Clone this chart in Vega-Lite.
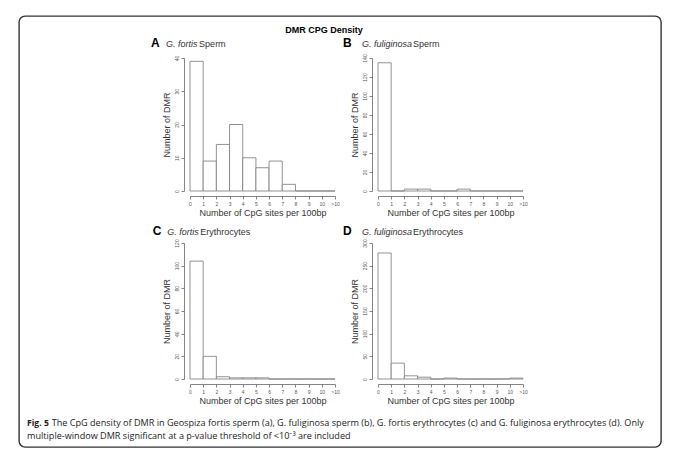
{
  "$schema": "https://vega.github.io/schema/vega-lite/v6.json",
  "padding": {"left": 18, "top": 15, "right": 14, "bottom": 8},
  "columns": 2,
  "align": "none",
  "bounds": "full",
  "spacing": {"column": -511, "row": -411},
  "datasets": {
    "hist": [
      {"panel": "A", "bin_start": 0, "bin_end": 1, "count": 39},
      {"panel": "A", "bin_start": 1, "bin_end": 2, "count": 9},
      {"panel": "A", "bin_start": 2, "bin_end": 3, "count": 14},
      {"panel": "A", "bin_start": 3, "bin_end": 4, "count": 20},
      {"panel": "A", "bin_start": 4, "bin_end": 5, "count": 10},
      {"panel": "A", "bin_start": 5, "bin_end": 6, "count": 7},
      {"panel": "A", "bin_start": 6, "bin_end": 7, "count": 9},
      {"panel": "A", "bin_start": 7, "bin_end": 8, "count": 2},
      {"panel": "A", "bin_start": 8, "bin_end": 9, "count": 0},
      {"panel": "A", "bin_start": 9, "bin_end": 10, "count": 0},
      {"panel": "A", "bin_start": 10, "bin_end": 11, "count": 0},
      {"panel": "B", "bin_start": 0, "bin_end": 1, "count": 135},
      {"panel": "B", "bin_start": 1, "bin_end": 2, "count": 0},
      {"panel": "B", "bin_start": 2, "bin_end": 3, "count": 2},
      {"panel": "B", "bin_start": 3, "bin_end": 4, "count": 2},
      {"panel": "B", "bin_start": 4, "bin_end": 5, "count": 0},
      {"panel": "B", "bin_start": 5, "bin_end": 6, "count": 0},
      {"panel": "B", "bin_start": 6, "bin_end": 7, "count": 2},
      {"panel": "B", "bin_start": 7, "bin_end": 8, "count": 0},
      {"panel": "B", "bin_start": 8, "bin_end": 9, "count": 0},
      {"panel": "B", "bin_start": 9, "bin_end": 10, "count": 0},
      {"panel": "B", "bin_start": 10, "bin_end": 11, "count": 0},
      {"panel": "C", "bin_start": 0, "bin_end": 1, "count": 104},
      {"panel": "C", "bin_start": 1, "bin_end": 2, "count": 20},
      {"panel": "C", "bin_start": 2, "bin_end": 3, "count": 2},
      {"panel": "C", "bin_start": 3, "bin_end": 4, "count": 1},
      {"panel": "C", "bin_start": 4, "bin_end": 5, "count": 1},
      {"panel": "C", "bin_start": 5, "bin_end": 6, "count": 1},
      {"panel": "C", "bin_start": 6, "bin_end": 7, "count": 0},
      {"panel": "C", "bin_start": 7, "bin_end": 8, "count": 0},
      {"panel": "C", "bin_start": 8, "bin_end": 9, "count": 0},
      {"panel": "C", "bin_start": 9, "bin_end": 10, "count": 0},
      {"panel": "C", "bin_start": 10, "bin_end": 11, "count": 0},
      {"panel": "D", "bin_start": 0, "bin_end": 1, "count": 278},
      {"panel": "D", "bin_start": 1, "bin_end": 2, "count": 35},
      {"panel": "D", "bin_start": 2, "bin_end": 3, "count": 7},
      {"panel": "D", "bin_start": 3, "bin_end": 4, "count": 4},
      {"panel": "D", "bin_start": 4, "bin_end": 5, "count": 0},
      {"panel": "D", "bin_start": 5, "bin_end": 6, "count": 2},
      {"panel": "D", "bin_start": 6, "bin_end": 7, "count": 0},
      {"panel": "D", "bin_start": 7, "bin_end": 8, "count": 0},
      {"panel": "D", "bin_start": 8, "bin_end": 9, "count": 0},
      {"panel": "D", "bin_start": 9, "bin_end": 10, "count": 0},
      {"panel": "D", "bin_start": 10, "bin_end": 11, "count": 2}
    ],
    "labels": [
      {"panel": "A", "letter": "A", "species": "G. fortis", "tissue": "Sperm"},
      {"panel": "B", "letter": "B", "species": "G. fuliginosa", "tissue": "Sperm"},
      {"panel": "C", "letter": "C", "species": "G. fortis", "tissue": "Erythrocytes"},
      {"panel": "D", "letter": "D", "species": "G. fuliginosa", "tissue": "Erythrocytes"}
    ],
    "caption": [
      {"title": "DMR CPG Density", "fig": "Fig. 5", "line1": "The CpG density of DMR in Geospiza fortis sperm (a), G. fuliginosa sperm (b), G. fortis erythrocytes (c) and G. fuliginosa erythrocytes (d). Only", "line2": "multiple-window DMR significant at a p-value threshold of <10⁻³ are included"}
    ]
  },
  "concat": [
    {
      "width": 642,
      "height": 431,
      "view": {"stroke": "#333", "strokeWidth": 1.4, "cornerRadius": 6},
      "data": {"name": "caption"},
      "layer": [
        {
          "mark": {"type": "text", "font": "Liberation Sans", "fontWeight": "bold", "fontSize": 9, "align": "center", "baseline": "middle", "dx": -16, "dy": 13.7, "color": "#000"},
          "encoding": {
            "x": {"datum": 0.5, "type": "quantitative", "scale": {"domain": [0, 1]}, "axis": null},
            "y": {"datum": 1, "type": "quantitative", "scale": {"domain": [0, 1]}, "axis": null},
            "text": {"field": "title"}
          }
        },
        {
          "mark": {"type": "text", "font": "Open Sans", "fontWeight": "bold", "fontSize": 8.6, "align": "left", "baseline": "middle", "dx": 8, "dy": -24.3, "color": "#222"},
          "encoding": {
            "x": {"datum": 0, "type": "quantitative", "axis": null},
            "y": {"datum": 0, "type": "quantitative", "axis": null},
            "text": {"field": "fig"}
          }
        },
        {
          "mark": {"type": "text", "font": "Open Sans", "fontSize": 9.1, "align": "left", "baseline": "middle", "dx": 32.7, "dy": -24.3, "color": "#222"},
          "encoding": {
            "x": {"datum": 0, "type": "quantitative", "axis": null},
            "y": {"datum": 0, "type": "quantitative", "axis": null},
            "text": {"field": "line1"}
          }
        },
        {
          "mark": {"type": "text", "font": "Open Sans", "fontSize": 9.1, "align": "left", "baseline": "middle", "dx": 8, "dy": -11.3, "color": "#222"},
          "encoding": {
            "x": {"datum": 0, "type": "quantitative", "axis": null},
            "y": {"datum": 0, "type": "quantitative", "axis": null},
            "text": {"field": "line2"}
          }
        }
      ]
    },
    {"width": 1, "height": 1, "data": {"values": []}, "mark": {"type": "point", "opacity": 0}},
    {"width": 1, "height": 1, "data": {"values": []}, "mark": {"type": "point", "opacity": 0}},
    {
      "columns": 2,
      "bounds": "flush",
      "spacing": {"column": 43, "row": 52},
      "concat": [
        {
          "width": 145, "height": 133,
          "layer": [
            {
              "data": {"name": "hist"},
              "transform": [{"filter": "datum.panel === 'A'"}],
              "mark": {"type": "rect", "fill": "white", "stroke": "#777", "strokeWidth": 0.8},
              "encoding": {
                "x": {"field": "bin_start", "type": "quantitative", "scale": {"domain": [0, 11], "nice": false}, "axis": {"title": "Number of CpG sites per 100bp", "values": [0,1,2,3,4,5,6,7,8,9,10,11], "labelExpr": "datum.value == 11 ? '>10' : datum.label"}},
                "x2": {"field": "bin_end"},
                "y": {"field": "count", "type": "quantitative", "scale": {"domain": [0, 40], "nice": false}, "axis": {"title": "Number of DMR", "values": [0,10,20,30,40]}},
                "y2": {"datum": 0}
              }
            },
            {
              "data": {"name": "labels"},
              "transform": [{"filter": "datum.panel === 'A'"}],
              "mark": {"type": "text", "fontSize": 12, "fontWeight": "bold", "align": "left", "baseline": "alphabetic", "color": "#000"},
              "encoding": {
                "x": {"datum": -2.95, "type": "quantitative", "axis": {"title": "Number of CpG sites per 100bp", "values": [0,1,2,3,4,5,6,7,8,9,10,11], "labelExpr": "datum.value == 11 ? '>10' : datum.label"}},
                "y": {"datum": 43.2, "type": "quantitative", "axis": {"title": "Number of DMR", "values": [0,10,20,30,40]}},
                "text": {"field": "letter"}
              }
            },
            {
              "data": {"name": "labels"},
              "transform": [{"filter": "datum.panel === 'A'"}],
              "mark": {"type": "text", "fontSize": 9, "fontStyle": "italic", "align": "left", "baseline": "alphabetic", "dx": 15, "color": "#333"},
              "encoding": {
                "x": {"datum": -2.95, "type": "quantitative", "axis": {"title": "Number of CpG sites per 100bp", "values": [0,1,2,3,4,5,6,7,8,9,10,11], "labelExpr": "datum.value == 11 ? '>10' : datum.label"}},
                "y": {"datum": 43.2, "type": "quantitative", "axis": {"title": "Number of DMR", "values": [0,10,20,30,40]}},
                "text": {"field": "species"}
              }
            },
            {
              "data": {"name": "labels"},
              "transform": [{"filter": "datum.panel === 'A'"}],
              "mark": {"type": "text", "fontSize": 9, "align": "left", "baseline": "alphabetic", "dx": 48, "color": "#333"},
              "encoding": {
                "x": {"datum": -2.95, "type": "quantitative", "axis": {"title": "Number of CpG sites per 100bp", "values": [0,1,2,3,4,5,6,7,8,9,10,11], "labelExpr": "datum.value == 11 ? '>10' : datum.label"}},
                "y": {"datum": 43.2, "type": "quantitative", "axis": {"title": "Number of DMR", "values": [0,10,20,30,40]}},
                "text": {"field": "tissue"}
              }
            }
          ]
        },
        {
          "width": 145, "height": 133,
          "layer": [
            {
              "data": {"name": "hist"},
              "transform": [{"filter": "datum.panel === 'B'"}],
              "mark": {"type": "rect", "fill": "white", "stroke": "#777", "strokeWidth": 0.8},
              "encoding": {
                "x": {"field": "bin_start", "type": "quantitative", "scale": {"domain": [0, 11], "nice": false}, "axis": {"title": "Number of CpG sites per 100bp", "values": [0,1,2,3,4,5,6,7,8,9,10,11], "labelExpr": "datum.value == 11 ? '>10' : datum.label"}},
                "x2": {"field": "bin_end"},
                "y": {"field": "count", "type": "quantitative", "scale": {"domain": [0, 140], "nice": false}, "axis": {"title": "Number of DMR", "values": [0,20,40,60,80,100,120,140]}},
                "y2": {"datum": 0}
              }
            },
            {
              "data": {"name": "labels"},
              "transform": [{"filter": "datum.panel === 'B'"}],
              "mark": {"type": "text", "fontSize": 12, "fontWeight": "bold", "align": "left", "baseline": "alphabetic", "color": "#000"},
              "encoding": {
                "x": {"datum": -2.66, "type": "quantitative", "axis": {"title": "Number of CpG sites per 100bp", "values": [0,1,2,3,4,5,6,7,8,9,10,11], "labelExpr": "datum.value == 11 ? '>10' : datum.label"}},
                "y": {"datum": 151.3, "type": "quantitative", "axis": {"title": "Number of DMR", "values": [0,20,40,60,80,100,120,140]}},
                "text": {"field": "letter"}
              }
            },
            {
              "data": {"name": "labels"},
              "transform": [{"filter": "datum.panel === 'B'"}],
              "mark": {"type": "text", "fontSize": 9, "fontStyle": "italic", "align": "left", "baseline": "alphabetic", "dx": 19, "color": "#333"},
              "encoding": {
                "x": {"datum": -2.66, "type": "quantitative", "axis": {"title": "Number of CpG sites per 100bp", "values": [0,1,2,3,4,5,6,7,8,9,10,11], "labelExpr": "datum.value == 11 ? '>10' : datum.label"}},
                "y": {"datum": 151.3, "type": "quantitative", "axis": {"title": "Number of DMR", "values": [0,20,40,60,80,100,120,140]}},
                "text": {"field": "species"}
              }
            },
            {
              "data": {"name": "labels"},
              "transform": [{"filter": "datum.panel === 'B'"}],
              "mark": {"type": "text", "fontSize": 9, "align": "left", "baseline": "alphabetic", "dx": 70, "color": "#333"},
              "encoding": {
                "x": {"datum": -2.66, "type": "quantitative", "axis": {"title": "Number of CpG sites per 100bp", "values": [0,1,2,3,4,5,6,7,8,9,10,11], "labelExpr": "datum.value == 11 ? '>10' : datum.label"}},
                "y": {"datum": 151.3, "type": "quantitative", "axis": {"title": "Number of DMR", "values": [0,20,40,60,80,100,120,140]}},
                "text": {"field": "tissue"}
              }
            }
          ]
        },
        {
          "width": 145, "height": 136,
          "layer": [
            {
              "data": {"name": "hist"},
              "transform": [{"filter": "datum.panel === 'C'"}],
              "mark": {"type": "rect", "fill": "white", "stroke": "#777", "strokeWidth": 0.8},
              "encoding": {
                "x": {"field": "bin_start", "type": "quantitative", "scale": {"domain": [0, 11], "nice": false}, "axis": {"title": "Number of CpG sites per 100bp", "values": [0,1,2,3,4,5,6,7,8,9,10,11], "labelExpr": "datum.value == 11 ? '>10' : datum.label"}},
                "x2": {"field": "bin_end"},
                "y": {"field": "count", "type": "quantitative", "scale": {"domain": [0, 120], "nice": false}, "axis": {"title": "Number of DMR", "values": [0,20,40,60,80,100,120]}},
                "y2": {"datum": 0}
              }
            },
            {
              "data": {"name": "labels"},
              "transform": [{"filter": "datum.panel === 'C'"}],
              "mark": {"type": "text", "fontSize": 12, "fontWeight": "bold", "align": "left", "baseline": "alphabetic", "color": "#000"},
              "encoding": {
                "x": {"datum": -2.83, "type": "quantitative", "axis": {"title": "Number of CpG sites per 100bp", "values": [0,1,2,3,4,5,6,7,8,9,10,11], "labelExpr": "datum.value == 11 ? '>10' : datum.label"}},
                "y": {"datum": 127.1, "type": "quantitative", "axis": {"title": "Number of DMR", "values": [0,20,40,60,80,100,120]}},
                "text": {"field": "letter"}
              }
            },
            {
              "data": {"name": "labels"},
              "transform": [{"filter": "datum.panel === 'C'"}],
              "mark": {"type": "text", "fontSize": 9, "fontStyle": "italic", "align": "left", "baseline": "alphabetic", "dx": 14.5, "color": "#333"},
              "encoding": {
                "x": {"datum": -2.83, "type": "quantitative", "axis": {"title": "Number of CpG sites per 100bp", "values": [0,1,2,3,4,5,6,7,8,9,10,11], "labelExpr": "datum.value == 11 ? '>10' : datum.label"}},
                "y": {"datum": 127.1, "type": "quantitative", "axis": {"title": "Number of DMR", "values": [0,20,40,60,80,100,120]}},
                "text": {"field": "species"}
              }
            },
            {
              "data": {"name": "labels"},
              "transform": [{"filter": "datum.panel === 'C'"}],
              "mark": {"type": "text", "fontSize": 9, "align": "left", "baseline": "alphabetic", "dx": 47.5, "color": "#333"},
              "encoding": {
                "x": {"datum": -2.83, "type": "quantitative", "axis": {"title": "Number of CpG sites per 100bp", "values": [0,1,2,3,4,5,6,7,8,9,10,11], "labelExpr": "datum.value == 11 ? '>10' : datum.label"}},
                "y": {"datum": 127.1, "type": "quantitative", "axis": {"title": "Number of DMR", "values": [0,20,40,60,80,100,120]}},
                "text": {"field": "tissue"}
              }
            }
          ]
        },
        {
          "width": 145, "height": 136,
          "layer": [
            {
              "data": {"name": "hist"},
              "transform": [{"filter": "datum.panel === 'D'"}],
              "mark": {"type": "rect", "fill": "white", "stroke": "#777", "strokeWidth": 0.8},
              "encoding": {
                "x": {"field": "bin_start", "type": "quantitative", "scale": {"domain": [0, 11], "nice": false}, "axis": {"title": "Number of CpG sites per 100bp", "values": [0,1,2,3,4,5,6,7,8,9,10,11], "labelExpr": "datum.value == 11 ? '>10' : datum.label"}},
                "x2": {"field": "bin_end"},
                "y": {"field": "count", "type": "quantitative", "scale": {"domain": [0, 300], "nice": false}, "axis": {"title": "Number of DMR", "values": [0,50,100,150,200,250,300]}},
                "y2": {"datum": 0}
              }
            },
            {
              "data": {"name": "labels"},
              "transform": [{"filter": "datum.panel === 'D'"}],
              "mark": {"type": "text", "fontSize": 12, "fontWeight": "bold", "align": "left", "baseline": "alphabetic", "color": "#000"},
              "encoding": {
                "x": {"datum": -2.66, "type": "quantitative", "axis": {"title": "Number of CpG sites per 100bp", "values": [0,1,2,3,4,5,6,7,8,9,10,11], "labelExpr": "datum.value == 11 ? '>10' : datum.label"}},
                "y": {"datum": 317.6, "type": "quantitative", "axis": {"title": "Number of DMR", "values": [0,50,100,150,200,250,300]}},
                "text": {"field": "letter"}
              }
            },
            {
              "data": {"name": "labels"},
              "transform": [{"filter": "datum.panel === 'D'"}],
              "mark": {"type": "text", "fontSize": 9, "fontStyle": "italic", "align": "left", "baseline": "alphabetic", "dx": 19, "color": "#333"},
              "encoding": {
                "x": {"datum": -2.66, "type": "quantitative", "axis": {"title": "Number of CpG sites per 100bp", "values": [0,1,2,3,4,5,6,7,8,9,10,11], "labelExpr": "datum.value == 11 ? '>10' : datum.label"}},
                "y": {"datum": 317.6, "type": "quantitative", "axis": {"title": "Number of DMR", "values": [0,50,100,150,200,250,300]}},
                "text": {"field": "species"}
              }
            },
            {
              "data": {"name": "labels"},
              "transform": [{"filter": "datum.panel === 'D'"}],
              "mark": {"type": "text", "fontSize": 9, "align": "left", "baseline": "alphabetic", "dx": 70, "color": "#333"},
              "encoding": {
                "x": {"datum": -2.66, "type": "quantitative", "axis": {"title": "Number of CpG sites per 100bp", "values": [0,1,2,3,4,5,6,7,8,9,10,11], "labelExpr": "datum.value == 11 ? '>10' : datum.label"}},
                "y": {"datum": 317.6, "type": "quantitative", "axis": {"title": "Number of DMR", "values": [0,50,100,150,200,250,300]}},
                "text": {"field": "tissue"}
              }
            }
          ]
        }
      ]
    }
  ],
  "config": {
    "view": {"stroke": null},
    "font": "Liberation Sans",
    "text": {"font": "Liberation Sans"},
    "axis": {
      "domainColor": "#666", "domainWidth": 0.8, "tickColor": "#666", "tickWidth": 0.8, "tickSize": 3,
      "labelFontSize": 5, "labelColor": "#555", "labelFont": "Liberation Sans", "labelFlush": false, "labelOverlap": false,
      "titleFontSize": 9, "titleFontWeight": "normal", "titleColor": "#333", "titleFont": "Liberation Sans", "grid": false
    },
    "axisY": {"offset": 6, "labelAngle": 270, "labelAlign": "center", "labelBaseline": "bottom", "labelPadding": 2, "titlePadding": 3},
    "axisX": {"offset": 5, "labelAngle": 0, "labelPadding": 2, "titlePadding": 2}
  }
}
